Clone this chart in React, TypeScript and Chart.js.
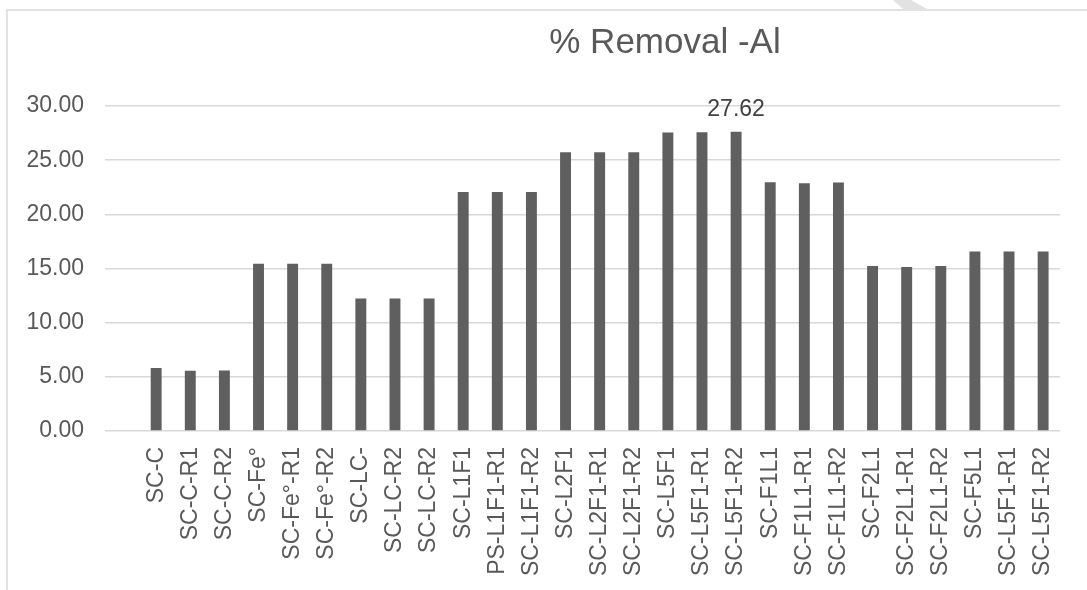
import React, { useEffect, useRef } from "react";
import { Chart, registerables } from "chart.js";

Chart.register(...registerables);

const categories: string[] = [
  "",
  "SC-C",
  "SC-C-R1",
  "SC-C-R2",
  "SC-Fe°",
  "SC-Fe°-R1",
  "SC-Fe°-R2",
  "SC-LC-",
  "SC-LC-R2",
  "SC-LC-R2",
  "SC-L1F1",
  "PS-L1F1-R1",
  "SC-L1F1-R2",
  "SC-L2F1",
  "SC-L2F1-R1",
  "SC-L2F1-R2",
  "SC-L5F1",
  "SC-L5F1-R1",
  "SC-L5F1-R2",
  "SC-F1L1",
  "SC-F1L1-R1",
  "SC-F1L1-R2",
  "SC-F2L1",
  "SC-F2L1-R1",
  "SC-F2L1-R2",
  "SC-F5L1",
  "SC-L5F1-R1",
  "SC-L5F1-R2",
];

const removalAl: (number | null)[] = [
  null,
  5.82, 5.57, 5.58,
  15.45, 15.45, 15.43,
  12.22, 12.22, 12.22,
  22.07, 22.06, 22.07,
  25.73, 25.73, 25.72,
  27.55, 27.58, 27.62,
  22.96, 22.87, 22.93,
  15.24, 15.14, 15.24,
  16.56, 16.56, 16.56,
];

const yTicks: number[] = [0, 5, 10, 15, 20, 25, 30];
const titleText = "% Removal -Al";
const labelledIndex = 18; // the bar carrying a data label (27.62)

const FONT = "'Liberation Sans', Arial, sans-serif";

export default function App() {
  const canvasRef = useRef<HTMLCanvasElement | null>(null);

  useEffect(() => {
    const canvas = canvasRef.current;
    if (!canvas) return;

    const decorPlugin = {
      id: "decor",
      beforeDraw(chart: any) {
        const ctx = chart.ctx;
        ctx.save();
        ctx.fillStyle = "#e2e2e2";
        ctx.beginPath();
        ctx.moveTo(893, 0);
        ctx.lineTo(911, 0);
        ctx.lineTo(927, 9);
        ctx.lineTo(903, 9);
        ctx.closePath();
        ctx.fill();
        ctx.strokeStyle = "#d9d9d9";
        ctx.lineWidth = 1.5;
        ctx.beginPath();
        ctx.moveTo(7, 590);
        ctx.lineTo(7, 10);
        ctx.lineTo(1087, 10);
        ctx.stroke();
        ctx.fillStyle = "#595959";
        ctx.font = `35px ${FONT}`;
        ctx.textAlign = "center";
        ctx.textBaseline = "alphabetic";
        ctx.fillText(titleText, 665, 53);
        ctx.restore();
      },
      afterDatasetsDraw(chart: any) {
        const ctx = chart.ctx;
        const meta = chart.getDatasetMeta(0);
        const bar = meta.data[labelledIndex];
        const v = removalAl[labelledIndex];
        if (!bar || v == null) return;
        ctx.save();
        ctx.fillStyle = "#404040";
        ctx.font = `23px ${FONT}`;
        ctx.textAlign = "center";
        ctx.textBaseline = "alphabetic";
        ctx.fillText(v.toFixed(2), bar.x, bar.y - 16);
        ctx.restore();
      },
    };

    const chart = new Chart(canvas, {
      type: "bar",
      data: {
        labels: categories,
        datasets: [
          {
            data: removalAl,
            backgroundColor: "#5f5f5f",
            borderWidth: 0,
            barPercentage: 0.32,
            categoryPercentage: 1,
          },
        ],
      },
      options: {
        responsive: false,
        animation: false,
        layout: { padding: { left: 0, right: 15, top: 106, bottom: 0 } },
        plugins: {
          legend: { display: false },
          title: { display: false },
          tooltip: { enabled: false },
        },
        scales: {
          x: {
            grid: { display: false, drawTicks: false },
            border: { display: false },
            ticks: {
              autoSkip: false,
              minRotation: 90,
              maxRotation: 90,
              padding: 16,
              color: "#595959",
              font: { family: FONT, size: 23 },
            },
            afterFit(scale: any) {
              scale.height = 159;
            },
          },
          y: {
            min: 0,
            max: 30,
            afterBuildTicks(scale: any) {
              scale.ticks = yTicks.map((v) => ({ value: v }));
            },
            grid: { color: "#d9d9d9", lineWidth: 1.5, drawTicks: false },
            border: { display: false },
            ticks: {
              padding: 21,
              color: "#595959",
              font: { family: FONT, size: 23 },
              callback: (v: any) => Number(v).toFixed(2),
            },
            afterFit(scale: any) {
              scale.width = 105;
            },
          },
        },
      },
      plugins: [decorPlugin],
    });

    return () => {
      chart.destroy();
    };
  }, []);

  return (
    <div style={{ position: "fixed", left: 0, top: 0, width: 1087, height: 590, background: "#fff" }}>
      <canvas ref={canvasRef} width={1087} height={590} style={{ display: "block" }} />
    </div>
  );
}
